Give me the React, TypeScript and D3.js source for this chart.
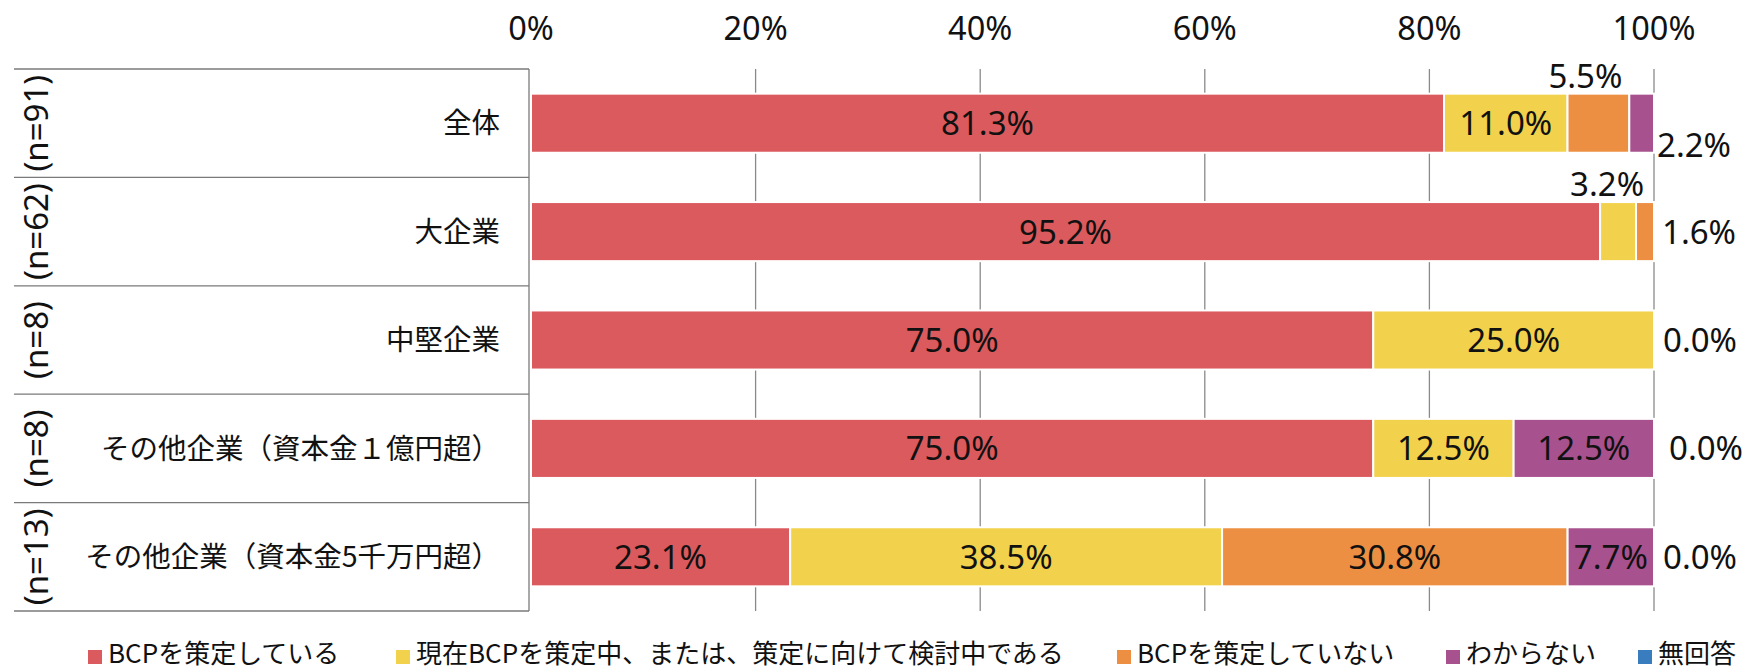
import React from "react";
import * as d3 from "d3";

const categories = [
  "全体",
  "大企業",
  "中堅企業",
  "その他企業（資本金１億円超）",
  "その他企業（資本金5千万円超）",
];
const sampleSizes = ["(n=91)", "(n=62)", "(n=8)", "(n=8)", "(n=13)"];
const seriesNames = [
  "BCPを策定している",
  "現在BCPを策定中、または、策定に向けて検討中である",
  "BCPを策定していない",
  "わからない",
  "無回答",
];
const planned = [81.3, 95.2, 75.0, 75.0, 23.1];
const drafting = [11.0, 3.2, 25.0, 12.5, 38.5];
const notPlanned = [5.5, 1.6, 0.0, 0.0, 30.8];
const unknown = [2.2, 0.0, 0.0, 12.5, 7.7];
const noAnswer = [0.0, 0.0, 0.0, 0.0, 0.0];
const axisTicks = [0, 0.2, 0.4, 0.6, 0.8, 1.0];
const axisTickLabels = ["0%", "20%", "40%", "60%", "80%", "100%"];
const colors = ["#DB5A5D", "#F2D24C", "#EC8F42", "#A8518F", "#3A7DBE"];

const W = 1749;
const H = 671;
const NUM_FONT = "'Noto Sans', 'Noto Sans CJK JP', sans-serif";
const CJK_FONT = "'Noto Sans CJK JP', 'Noto Sans', sans-serif";

export default function App() {
  const seriesValues = [planned, drafting, notPlanned, unknown, noAnswer];
  const rows = categories.map((c, i) => {
    const r: any = { category: c };
    seriesNames.forEach((s, j) => (r[s] = seriesValues[j][i]));
    return r;
  });
  const stacked = d3
    .stack<any>()
    .keys(seriesNames)
    .offset(d3.stackOffsetExpand)(rows);

  const x = d3.scaleLinear().domain([0, 1]).range([531, 1654]);
  const y = d3.scaleBand<string>().domain(categories).range([69, 611]).padding(0);
  const barH = y.bandwidth() * 0.545;
  const tableLeft = 14;
  const tableRight = 529;

  type Place = { mode: "above" | "right" | "rightBelow"; dx?: number };
  const overrides: Record<string, Place> = {
    "0-2": { mode: "above", dx: -13 },
    "0-3": { mode: "rightBelow", dx: 3 },
    "1-1": { mode: "above", dx: -11 },
    "1-2": { mode: "right", dx: 8 },
    "2-4": { mode: "right", dx: 9 },
    "3-4": { mode: "right", dx: 15 },
    "4-4": { mode: "right", dx: 9 },
  };

  const labels: any[] = [];
  stacked.forEach((layer, j) => {
    layer.forEach((seg, i) => {
      const v = seriesValues[j][i];
      const key = `${i}-${j}`;
      const cy = (y(categories[i]) as number) + y.bandwidth() / 2;
      const x0 = x(seg[0]);
      const x1 = x(seg[1]);
      const text = `${v.toFixed(1)}%`;
      const o = overrides[key];
      if (o) {
        if (o.mode === "above") {
          labels.push({ key, x: (x0 + x1) / 2 + (o.dx || 0), y: cy - barH / 2 - 6, anchor: "middle", text });
        } else if (o.mode === "right") {
          labels.push({ key, x: x(1) + (o.dx || 0), y: cy + 12, anchor: "start", text });
        } else {
          labels.push({ key, x: x(1) + (o.dx || 0), y: cy + 34, anchor: "start", text });
        }
      } else if (v > 0) {
        labels.push({ key, x: (x0 + x1) / 2, y: cy + 12, anchor: "middle", text });
      }
    });
  });

  const legendX = [88, 396, 1117, 1446, 1638];

  return (
    <svg
      width={W}
      height={H}
      style={{ position: "absolute", left: 0, top: 0, background: "#fff" }}
    >
      <rect x={0} y={0} width={W} height={H} fill="#fff" />
      {axisTicks.slice(1).map((t) => (
        <line
          key={t}
          x1={x(t)}
          x2={x(t)}
          y1={69}
          y2={611}
          stroke="#8a8a8a"
          strokeWidth={1.3}
        />
      ))}
      {axisTicks.map((t, i) => (
        <text
          key={t}
          x={x(t)}
          y={40}
          textAnchor="middle"
          fontFamily={NUM_FONT}
          fontSize={32.5}
          fill="#111"
        >
          {axisTickLabels[i]}
        </text>
      ))}
      <line x1={tableLeft} x2={tableRight} y1={69} y2={69} stroke="#7a7a7a" strokeWidth={1.3} />
      {categories.map((c) => (
        <line
          key={c}
          x1={tableLeft}
          x2={tableRight}
          y1={(y(c) as number) + y.bandwidth()}
          y2={(y(c) as number) + y.bandwidth()}
          stroke="#7a7a7a"
          strokeWidth={1.3}
        />
      ))}
      <line x1={tableRight} x2={tableRight} y1={69} y2={611} stroke="#7a7a7a" strokeWidth={1.3} />
      {categories.map((c, i) => {
        const cy = (y(c) as number) + y.bandwidth() / 2;
        return (
          <g key={c}>
            <text
              x={500}
              y={cy}
              dy="0.36em"
              textAnchor="end"
              fontFamily={CJK_FONT}
              fontSize={28.5}
              fill="#111"
            >
              {c}
            </text>
            <text
              transform={`translate(36,${cy}) rotate(-90)`}
              textAnchor="middle"
              dy="0.35em"
              fontFamily={NUM_FONT}
              fontSize={33}
              fill="#111"
            >
              {sampleSizes[i]}
            </text>
          </g>
        );
      })}
      {stacked.map((layer, j) => (
        <g key={seriesNames[j]} fill={colors[j]}>
          {layer.map((seg, i) => {
            const w = x(seg[1]) - x(seg[0]);
            if (w <= 0) return null;
            return (
              <rect
                key={i}
                x={x(seg[0])}
                y={(y(categories[i]) as number) + (y.bandwidth() - barH) / 2}
                width={w}
                height={barH}
                stroke="#fff"
                strokeWidth={2}
              />
            );
          })}
        </g>
      ))}
      {labels.map((l) => (
        <text
          key={l.key}
          x={l.x}
          y={l.y}
          textAnchor={l.anchor}
          fontFamily={NUM_FONT}
          fontSize={33}
          fill="#111"
        >
          {l.text}
        </text>
      ))}
      {seriesNames.map((s, j) => (
        <g key={s}>
          <rect x={legendX[j]} y={650} width={14} height={14} fill={colors[j]} />
          <text
            x={legendX[j] + 20}
            y={663}
            fontFamily={CJK_FONT}
            fontSize={26}
            fill="#111"
          >
            {s}
          </text>
        </g>
      ))}
    </svg>
  );
}
